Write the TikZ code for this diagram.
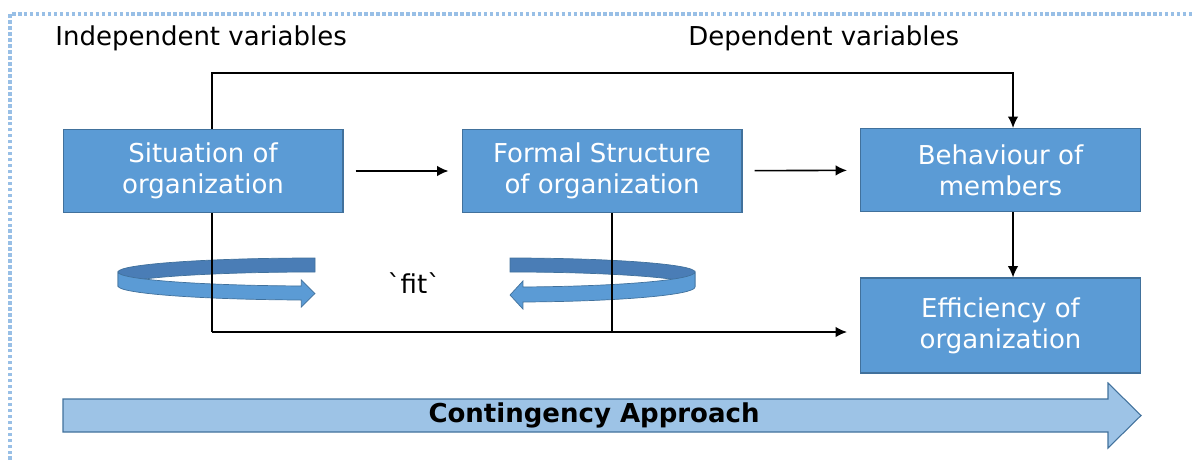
\documentclass[tikz,border=0pt]{standalone}
\usepackage{fontspec}
\setmainfont{DejaVu Sans}[Ligatures=TeXOff]
\usetikzlibrary{arrows.meta}

\definecolor{boxblue}{HTML}{5B9BD5}
\definecolor{edgeblue}{HTML}{41719C}
\definecolor{paleblue}{HTML}{9DC3E6}
\definecolor{backblue}{HTML}{4A7DB6}
\definecolor{dotblue}{HTML}{98BFE6}

\newcommand{\varfont}{\fontsize{14.8}{17.6}\selectfont}

\tikzset{
  varbox/.style={draw=edgeblue, fill=boxblue, line width=0.6pt, text=white,
    align=center, minimum width=5.6cm, minimum height=1.66cm, inner sep=0pt,
    font=\varfont},
  caption/.style={font=\varfont, inner sep=0pt},
  flow/.style={-{Latex[length=6.5pt, width=6pt]}, line width=0.9pt},
  link/.style={line width=0.9pt},
  loopback/.style={fill=backblue, draw=edgeblue, line width=0.4pt},
  loopfront/.style={fill=boxblue, draw=edgeblue, line width=0.4pt}
}

\begin{document}
\begin{tikzpicture}[x=0.02cm, y=0.02cm]

\useasboundingbox (0,0) rectangle (1195,-460);

% Frame
\draw[dotblue, line width=2pt, dash pattern=on 2pt off 1.4pt]
(10,-460)
--
(10,-14)
--
(1195,-14);

% Headings
\node[caption, anchor=base west] (indep) at (55,-45) {Independent variables};
\node[caption, anchor=base west] (dep) at (688,-45) {Dependent variables};

% Boxes
\node[varbox] (sit) at (203,-171) {Situation of\\organization};
\node[varbox] (formal) at (602,-171) {Formal Structure\\of organization};
\node[varbox] (beh) at (1000.5,-170) {Behaviour of\\members};
\node[varbox, minimum height=1.9cm] (eff) at (1000.5,-325.5) {Efficiency of\\organization};

\node[caption] (fit) at (414,-283) {`fit`};

% Loops
\draw[loopback]
(315,-258)
arc[start angle=90, end angle=180, x radius=197, y radius=14]
--
(118,-286)
arc[start angle=180, end angle=90, x radius=197, y radius=14]
-- cycle;

\draw[loopfront]
(118,-272)
arc[start angle=180, end angle=266, x radius=197, y radius=14]
--
(301.3,-280)
--
(315,-293.5)
--
(301.3,-307)
--
(301.3,-300)
arc[start angle=266, end angle=180, x radius=197, y radius=14]
-- cycle;

\draw[loopback]
(510,-258)
arc[start angle=90, end angle=0, x radius=185, y radius=14]
--
(695,-286)
arc[start angle=0, end angle=90, x radius=185, y radius=14]
-- cycle;

\draw[loopfront]
(695,-272)
arc[start angle=0, end angle=-86, x radius=185, y radius=15]
--
(522.9,-281)
--
(510,-295)
--
(522.9,-309)
--
(522.9,-302)
arc[start angle=-86, end angle=0, x radius=185, y radius=15]
-- cycle;

% Connectors
\coordinate (tl) at (212,-73);
\coordinate (tr) at (1013,-73);
\coordinate (bl) at (212,-332);
\coordinate (bm) at (612,-332);

\draw[flow, shorten <=0.24cm, shorten >=0.26cm] (sit) -- (formal);
\draw[flow, shorten <=0.24cm, shorten >=0.26cm] (formal) -- (beh);

\draw[flow]
(sit.north -| tl)
--
(tl)
--
(tr)
--
(beh.north -| tr);

\draw[flow] (beh.south -| tr) -- (eff.north -| tr);

\draw[link] (sit.south -| bl) -- (bl);
\draw[link] (formal.south -| bm) -- (bm);
\draw[flow, shorten >=0.26cm] (bl) -- (eff.west |- bl);

% Approach arrow
\draw[fill=paleblue, draw=edgeblue, line width=0.6pt]
(63,-399)
--
(1108,-399)
--
(1108,-383)
--
(1141,-415.5)
--
(1108,-448)
--
(1108,-432)
--
(63,-432)
-- cycle;

\node[caption, font=\varfont\bfseries] (approach) at (594,-415.5) {Contingency Approach};

\end{tikzpicture}
\end{document}
